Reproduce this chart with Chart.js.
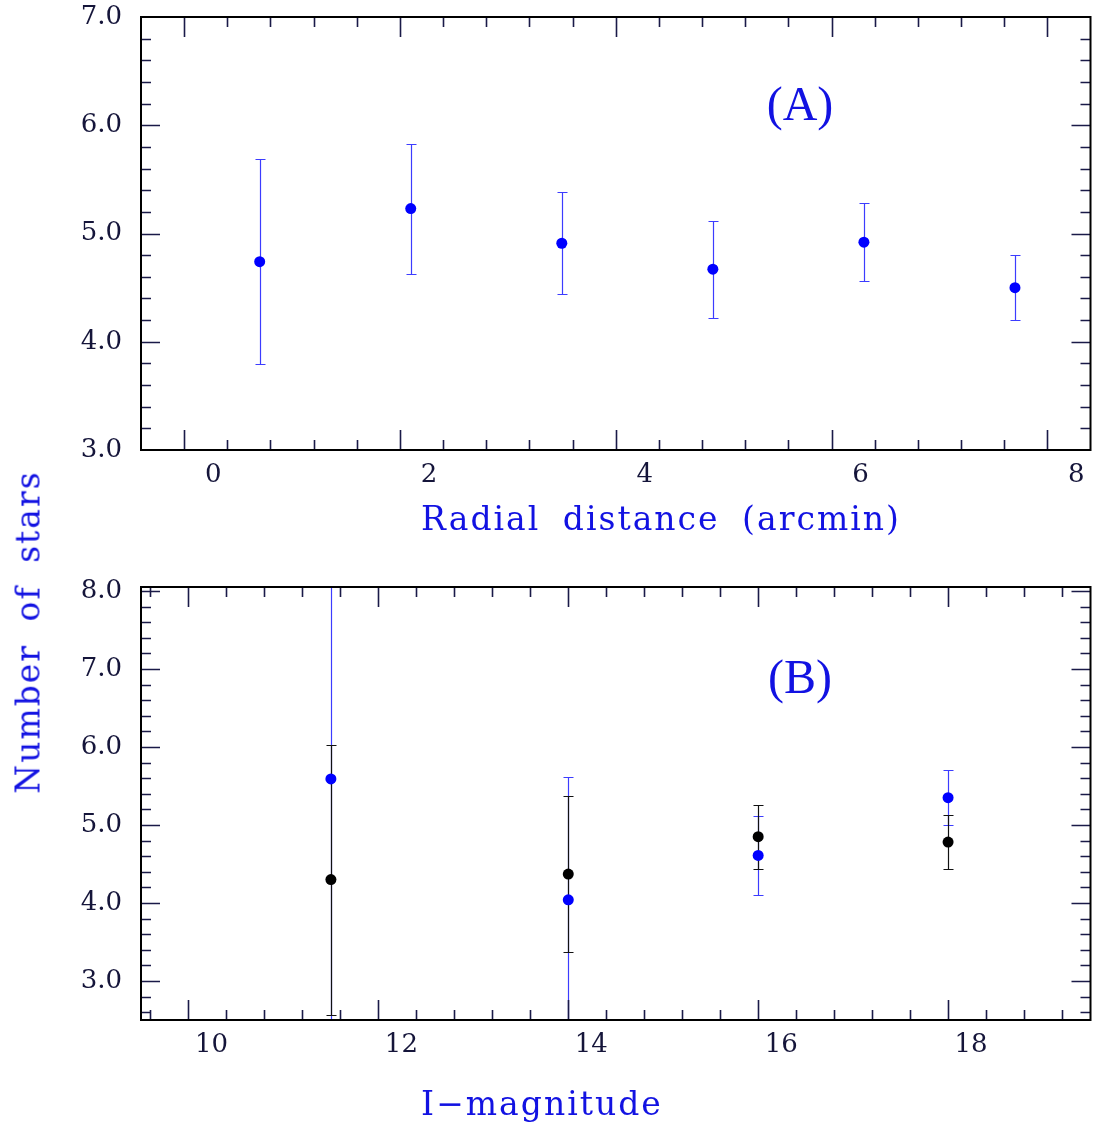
<!DOCTYPE html>
<html>
<head>
<meta charset="utf-8">
<script src="https://cdn.jsdelivr.net/npm/chart.js@4.4.1/dist/chart.umd.min.js"></script>
<style>
  body { margin: 0; background: #fff; }
  #wrap { position: relative; width: 1096px; height: 1126px; overflow: hidden; }
  canvas { position: absolute; left: 0; }
  .title {
    position: absolute; white-space: nowrap; color: #1212e2;
    font-family: "DejaVu Serif", serif; font-size: 33px;
    letter-spacing: 2px; word-spacing: 10px;
    transform: translate(-50%, -50%);
  }
  .panel {
    position: absolute; white-space: nowrap; color: #1212e2;
    font-family: "Liberation Serif", serif; font-size: 48px;
    transform: translate(-50%, -50%);
  }
</style>
</head>
<body>
<div id="wrap">
  <canvas id="chartA" width="1096" height="560" style="top:0"></canvas>
  <canvas id="chartB" width="1096" height="566" style="top:560px"></canvas>
  <div class="title" style="left:661px; top:518px">Radial distance (arcmin)</div>
  <div class="title" style="left:542px; top:1103px">I&minus;magnitude</div>
  <div class="title" style="left:28px; top:632px; transform: translate(-50%, -50%) rotate(-90deg)">Number of stars</div>
  <div class="panel" style="left:800px; top:103px">(A)</div>
  <div class="panel" style="left:800px; top:676px">(B)</div>
</div>
<script>
// ── Panel A: radial distribution ────────────────────────────────
const radiusA = [0.7, 2.1, 3.5, 4.9, 6.3, 7.7];
const countsA = [4.74, 5.23, 4.91, 4.67, 4.92, 4.50];
const errA    = [0.95, 0.60, 0.47, 0.45, 0.36, 0.30];

// ── Panel B: magnitude bins ─────────────────────────────────────
const magB        = [11.5, 14, 16, 18];
const countsBlue  = [5.59, 4.04, 4.61, 5.35];
const errBlue     = [3.30, 1.58, 0.51, 0.35];
const countsBlack = [4.30, 4.37, 4.85, 4.78];
const errBlack    = [1.73, 1.00, 0.41, 0.35];

// ── Tick labels ─────────────────────────────────────────────────
const xTicksA = [0, 2, 4, 6, 8];
const yTicksA = [3, 4, 5, 6, 7];
const xTicksB = [10, 12, 14, 16, 18];
const yTicksB = [3, 4, 5, 6, 7, 8];

const TICK_FONT = { family: 'DejaVu Serif', size: 26 };
const TICK_COLOR = '#15153a';

const pts = (xs, ys) => xs.map((x, i) => ({ x, y: ys[i] }));

// error bars drawn under the markers, clipped to the plot box
const errorBars = {
  id: 'errorBars',
  beforeDatasetsDraw(chart) {
    const { ctx, chartArea: a, scales: { x, y } } = chart;
    ctx.save();
    ctx.beginPath();
    ctx.rect(a.left, a.top, a.width, a.height);
    ctx.clip();
    chart.data.datasets.forEach(ds => {
      if (!ds.errors) return;
      ctx.strokeStyle = ds.errorColor;
      ctx.lineWidth = 1.2;
      ds.data.forEach((p, i) => {
        const px = Math.round(x.getPixelForValue(p.x)) + 0.5;
        const top = Math.round(y.getPixelForValue(p.y + ds.errors[i])) + 0.5;
        const bot = Math.round(y.getPixelForValue(p.y - ds.errors[i])) + 0.5;
        ctx.beginPath();
        ctx.moveTo(px, top); ctx.lineTo(px, bot);
        ctx.moveTo(px - 5, top); ctx.lineTo(px + 5, top);
        ctx.moveTo(px - 5, bot); ctx.lineTo(px + 5, bot);
        ctx.stroke();
      });
    });
    ctx.restore();
  }
};

// boxed frame with inward major/minor ticks on all four sides
const frameTicks = {
  id: 'frameTicks',
  afterDatasetsDraw(chart, args, opts) {
    const { ctx, chartArea: a, scales: { x, y } } = chart;
    const isMajor = (scale, v) => scale.ticks.some(t => Math.abs(t.value - v) < 1e-6);
    ctx.save();
    ctx.strokeStyle = '#1a1a48';
    ctx.lineWidth = 1.6;
    ctx.beginPath();
    for (let k = Math.ceil(x.min / opts.xMinor - 1e-9); k * opts.xMinor <= x.max + 1e-9; k++) {
      const v = k * opts.xMinor;
      const px = Math.round(x.getPixelForValue(v)) + 0.5;
      if (px < a.left + 2 || px > a.right - 2) continue;
      const len = isMajor(x, v) ? 20 : 10;
      ctx.moveTo(px, a.bottom); ctx.lineTo(px, a.bottom - len);
      ctx.moveTo(px, a.top); ctx.lineTo(px, a.top + len);
    }
    for (let k = Math.ceil(y.min / opts.yMinor - 1e-9); k * opts.yMinor <= y.max + 1e-9; k++) {
      const v = k * opts.yMinor;
      const py = Math.round(y.getPixelForValue(v)) + 0.5;
      if (py < a.top + 2 || py > a.bottom - 2) continue;
      const len = isMajor(y, v) ? 19 : 10;
      ctx.moveTo(a.left, py); ctx.lineTo(a.left + len, py);
      ctx.moveTo(a.right, py); ctx.lineTo(a.right - len, py);
    }
    ctx.stroke();
    ctx.strokeStyle = '#000';
    ctx.lineWidth = 2;
    ctx.strokeRect(a.left, a.top, a.width, a.height);
    ctx.restore();
  }
};

function axis(min, max, tickList, extra) {
  return {
    type: 'linear', min, max,
    grid: { display: false, drawTicks: false },
    border: { display: false },
    afterBuildTicks: s => { s.ticks = tickList.map(v => ({ value: v })); },
    ticks: { font: TICK_FONT, color: TICK_COLOR, autoSkip: false, maxRotation: 0, ...extra.ticks },
    afterFit: s => {
      // no label overhang: the plot box is set by layout padding alone
      s.paddingTop = s.paddingBottom = s.paddingLeft = s.paddingRight = 0;
      extra.afterFit(s);
    }
  };
}

function panel(id, datasets, cfg) {
  return new Chart(document.getElementById(id), {
    type: 'scatter',
    data: { datasets },
    options: {
      responsive: false,
      animation: false,
      layout: { padding: { top: cfg.top, right: 5, left: 0, bottom: 0 } },
      plugins: {
        legend: { display: false },
        tooltip: { enabled: false },
        frameTicks: { xMinor: 0.4, yMinor: 0.2 }
      },
      scales: {
        x: axis(cfg.xMin, cfg.xMax, cfg.xTicks, {
          ticks: { padding: 10, labelOffset: cfg.labelOffset, callback: v => String(v) },
          afterFit: s => { s.height = cfg.xHeight; }
        }),
        y: axis(cfg.yMin, cfg.yMax, cfg.yTicks, {
          ticks: { padding: 19, callback: v => v.toFixed(1) },
          afterFit: s => { s.width = 141; }
        })
      }
    },
    plugins: [errorBars, frameTicks]
  });
}

panel('chartA', [{
  data: pts(radiusA, countsA),
  errors: errA,
  errorColor: '#3c3cff',
  backgroundColor: '#0000ff',
  pointRadius: 5.5,
  borderWidth: 0
}], { top: 17, xMin: -0.4, xMax: 8.4, yMin: 3, yMax: 7, xTicks: xTicksA, yTicks: yTicksA, labelOffset: 29, xHeight: 110 });

panel('chartB', [{
  data: pts(magB, countsBlue),
  errors: errBlue,
  errorColor: '#3c3cff',
  backgroundColor: '#0000ff',
  pointRadius: 5.5,
  borderWidth: 0
}, {
  data: pts(magB, countsBlack),
  errors: errBlack,
  errorColor: '#111111',
  backgroundColor: '#000000',
  pointRadius: 5.5,
  borderWidth: 0
}], { top: 27, xMin: 9.5, xMax: 19.5, yMin: 2.5, yMax: 8.05, xTicks: xTicksB, yTicks: yTicksB, labelOffset: 23, xHeight: 106 });
</script>
</body>
</html>
